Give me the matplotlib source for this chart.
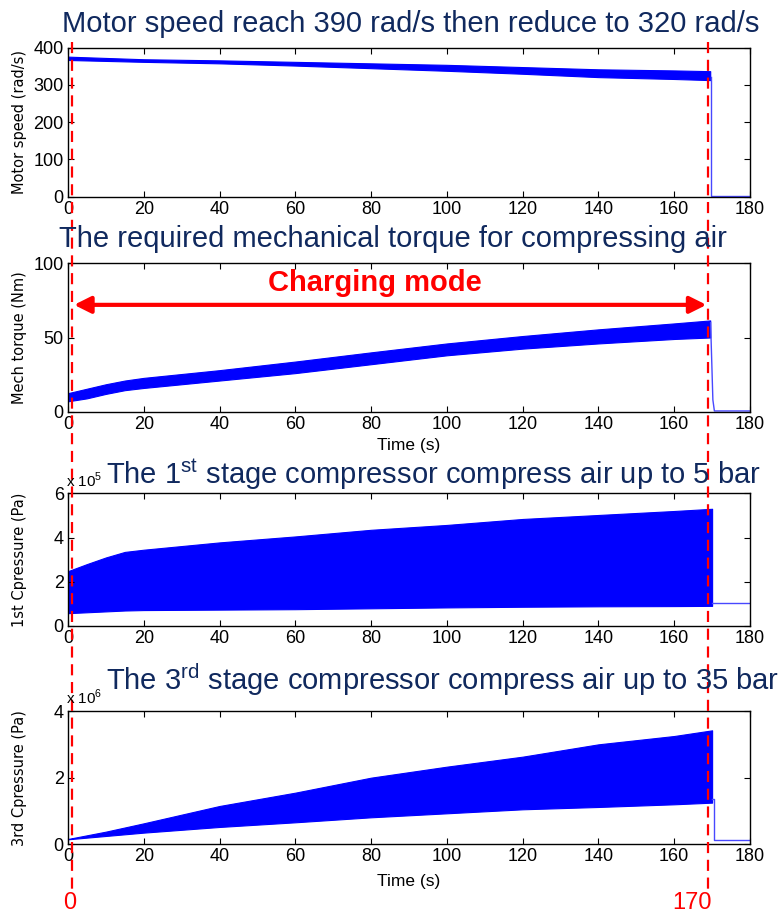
import matplotlib
matplotlib.use('Agg')
import matplotlib.pyplot as plt
from matplotlib.lines import Line2D

plt.rcParams['font.family'] = ['Liberation Sans', 'DejaVu Sans']
plt.rcParams['mathtext.fontset'] = 'custom'
plt.rcParams['mathtext.rm'] = 'Liberation Sans'

BLUE = '#0000ff'
TAIL = '#4848ff'
NAVY = '#10295e'
RED = '#ff0000'

# motor speed (rad/s), upper / lower envelope of the oscillation
speed_t = [0, 20, 40, 60, 80, 100, 120, 140, 160, 169.5]
speed_hi = [376, 369, 366, 362, 358, 354, 348, 342, 339, 337]
speed_lo = [367, 362, 358, 352, 345, 338, 330, 321, 316, 313]
speed_tail_t = [169.6, 169.6, 180]
speed_tail_y = [320, 2, 2]

# mechanical torque (Nm)
torque_t = [0, 5, 10, 15, 20, 40, 60, 80, 100, 120, 140, 160, 169.5]
torque_hi = [12.5, 15.5, 18.5, 21, 22.8, 28, 33.8, 40, 46, 51, 55.5, 59.5, 61.5]
torque_lo = [7, 9, 12, 14.5, 16, 21, 26, 32, 38, 42.5, 46, 49, 50]
torque_tail_t = [169.6, 170.2, 170.6, 180]
torque_tail_y = [60, 8, 0.5, 0.5]

# 1st stage pressure (x 1e5 Pa)
p1_t = [0, 5, 10, 15, 20, 40, 60, 80, 100, 120, 140, 160, 170]
p1_hi = [2.48, 2.8, 3.1, 3.35, 3.45, 3.78, 4.05, 4.35, 4.57, 4.84, 5.02, 5.2, 5.3]
p1_lo = [0.58, 0.62, 0.66, 0.7, 0.72, 0.74, 0.76, 0.8, 0.84, 0.87, 0.89, 0.9, 0.91]
p1_tail_t = [170, 180]
p1_tail_y = [1.06, 1.06]

# 3rd stage pressure (x 1e6 Pa)
p3_t = [0, 10, 20, 40, 60, 80, 100, 120, 140, 160, 170]
p3_hi = [0.16, 0.38, 0.63, 1.15, 1.55, 2.0, 2.33, 2.63, 3.0, 3.25, 3.42]
p3_lo = [0.15, 0.25, 0.35, 0.52, 0.66, 0.81, 0.93, 1.05, 1.12, 1.2, 1.25]
p3_tail_t = [170, 170.5, 170.5, 180]
p3_tail_y = [1.35, 1.35, 0.12, 0.12]

xticks = [0, 20, 40, 60, 80, 100, 120, 140, 160, 180]
mode_start, mode_end = 0, 170

W, H = 780, 916
fig = plt.figure(figsize=(W / 100, H / 100), dpi=100)


def px_axes(left, top, right, bottom):
    return fig.add_axes([left / W, 1 - bottom / H, (right - left) / W, (bottom - top) / H])


def style(ax, ylim, yticks, ylabel):
    ax.set_xlim(0, 180)
    ax.set_ylim(*ylim)
    ax.set_xticks(xticks)
    ax.set_yticks(yticks)
    ax.tick_params(direction='in', top=True, right=True, length=4, width=0.8,
                   labelsize=13, pad=3)
    for s in ax.spines.values():
        s.set_linewidth(1.0)
    ax.set_ylabel(ylabel, family='DejaVu Sans', fontsize=10.5)
    ax.yaxis.set_label_coords(-0.06, 0.5)


def band(ax, t, hi, lo, tt, ty):
    ax.fill_between(t, lo, hi, color=BLUE, lw=0.8, edgecolor=BLUE)
    ax.plot(tt, ty, color=TAIL, lw=1.0)


ax1 = px_axes(68, 47.7, 750, 196.7)
band(ax1, speed_t, speed_hi, speed_lo, speed_tail_t, speed_tail_y)
style(ax1, (0, 400), [0, 100, 200, 300, 400], 'Motor speed (rad/s)')

ax2 = px_axes(68, 263.3, 750, 411.7)
band(ax2, torque_t, torque_hi, torque_lo, torque_tail_t, torque_tail_y)
style(ax2, (0, 100), [0, 50, 100], 'Mech torque (Nm)')
ax2.set_xlabel('Time (s)', fontsize=12.5)
ax2.xaxis.set_label_coords(0.5, -0.18)

ax3 = px_axes(68, 493.3, 750, 626)
band(ax3, p1_t, p1_hi, p1_lo, p1_tail_t, p1_tail_y)
style(ax3, (0, 6), [0, 2, 4, 6], '1st Cpressure (Pa)')

ax4 = px_axes(68, 711, 750, 844.3)
band(ax4, p3_t, p3_hi, p3_lo, p3_tail_t, p3_tail_y)
style(ax4, (0, 4), [0, 2, 4], '3rd Cpressure (Pa)')
ax4.set_xlabel('Time (s)', fontsize=12.5)
ax4.xaxis.set_label_coords(0.5, -0.225)

# titles
fig.text(411 / W, 1 - 32 / H, 'Motor speed reach 390 rad/s then reduce to 320 rad/s',
         color=NAVY, fontsize=21, ha='center', va='baseline')
fig.text(393 / W, 1 - 247 / H, 'The required mechanical torque for compressing air',
         color=NAVY, fontsize=21, ha='center', va='baseline')
fig.text(106 / W, 1 - 484 / H,
         r'The 1$^{\mathrm{st}}$ stage compressor compress air up to 5 bar',
         color=NAVY, fontsize=21, ha='left', va='baseline')
fig.text(106 / W, 1 - 690 / H,
         r'The 3$^{\mathrm{rd}}$ stage compressor compress air up to 35 bar',
         color=NAVY, fontsize=21, ha='left', va='baseline')
fig.text(66 / W, 1 - 487 / H, r'x 10$^{5}$', fontsize=11, ha='left', va='baseline')
fig.text(66 / W, 1 - 704 / H, r'x 10$^{6}$', fontsize=11, ha='left', va='baseline')

# charging mode annotation
ax2.annotate('', xy=(1.6, 72), xytext=(168.5, 72),
             arrowprops=dict(arrowstyle='<|-|>', color=RED, lw=3,
                             mutation_scale=25, shrinkA=0, shrinkB=0))
ax2.text(81, 81, 'Charging mode', color=RED, fontsize=21, fontweight='bold',
         ha='center', va='baseline')

# red dashed markers through all panels
pos = ax1.get_position()
for xv, lab in [(mode_start + 1, str(mode_start)), (mode_end - 1, str(mode_end))]:
    fx = pos.x0 + xv / 180 * pos.width
    fig.add_artist(Line2D([fx, fx], [1 - 42 / H, 1 - 892 / H], color=RED, lw=1.6,
                          ls=(0, (5, 3))))
    fig.text(fx - 2 / W if lab == '0' else fx - 16 / W, 1 - 909 / H, lab, color=RED,
             fontsize=17, ha='center', va='baseline')

fig.savefig('out.png', dpi=100)
